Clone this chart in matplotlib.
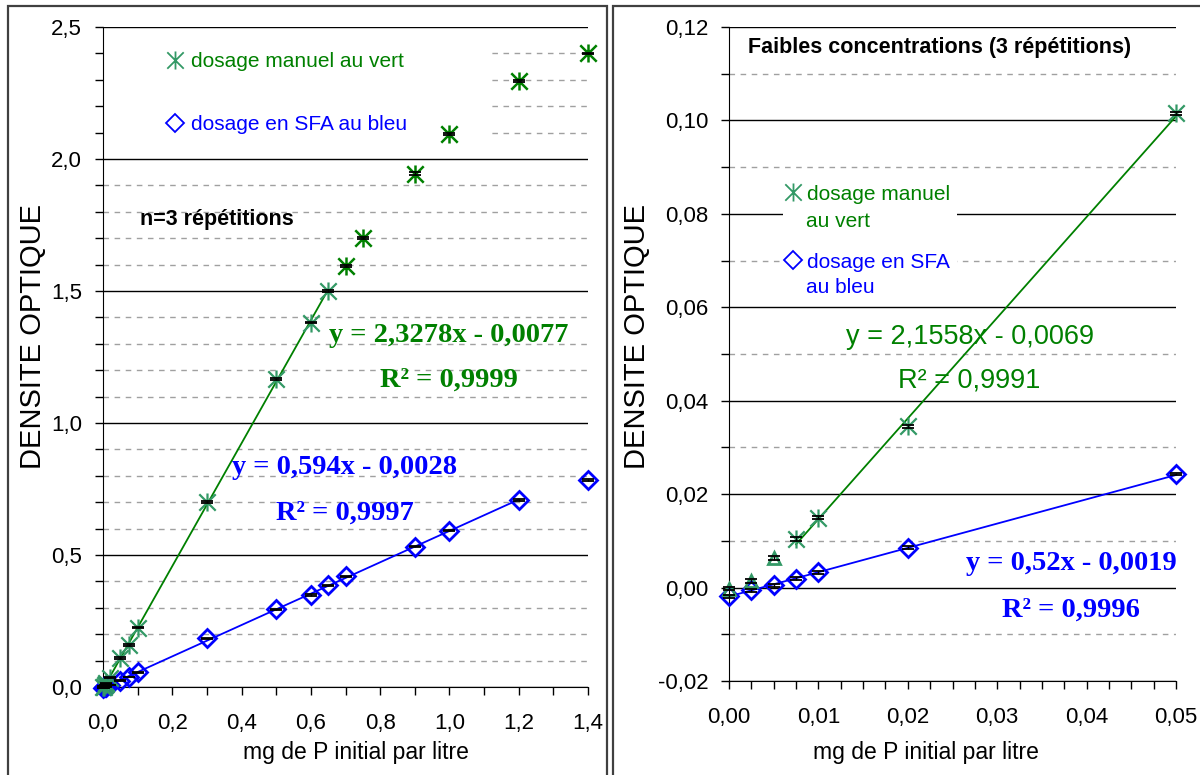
import numpy as np
import matplotlib.pyplot as plt
from matplotlib.path import Path
from matplotlib.patches import Rectangle
from matplotlib.lines import Line2D
from matplotlib.ticker import MultipleLocator, FuncFormatter

plt.rcParams['font.family'] = ['Liberation Sans', 'DejaVu Sans']

# ---- data, left panel (0 - 1.4 mg/L) ----
left_x_green = [0, 0.0025, 0.005, 0.0075, 0.01, 0.02, 0.05, 0.075, 0.1, 0.3, 0.5, 0.6, 0.65]
left_y_green = [0.0, 0.001, 0.0065, 0.0105, 0.015, 0.035, 0.11, 0.16, 0.225, 0.70, 1.165, 1.38, 1.50]
left_err_green = [0.002, 0.002, 0.002, 0.002, 0.002, 0.002, 0.003, 0.003, 0.003, 0.003, 0.004, 0.003, 0.003]
left_x_green_high = [0.7, 0.75, 0.9, 1.0, 1.2, 1.4]
left_y_green_high = [1.595, 1.70, 1.945, 2.095, 2.295, 2.40]
left_err_green_high = [0.004, 0.003, 0.004, 0.005, 0.004, 0.002]
left_x_blue = [0, 0.0025, 0.005, 0.0075, 0.01, 0.02, 0.05, 0.075, 0.1, 0.3, 0.5, 0.6, 0.65, 0.7, 0.9, 1.0, 1.2, 1.4]
left_y_blue = [-0.002, -0.001, 0.0004, 0.0017, 0.003, 0.0083, 0.024, 0.038, 0.055, 0.185, 0.295, 0.348,
               0.385, 0.42, 0.532, 0.592, 0.708, 0.784]
left_err_blue = [0.001] * 9 + [0.002, 0.002, 0.003, 0.003, 0.002, 0.003, 0.002, 0.004, 0.002]

# ---- data, right panel (low concentrations) ----
right_x_tri = [0, 0.0025, 0.005]
right_y_tri = [-0.0002, 0.0014, 0.0064]
right_err_tri = [0.0004, 0.0004, 0.0004]
right_x_green = [0.0075, 0.01, 0.02, 0.05]
right_y_green = [0.0104, 0.015, 0.0345, 0.1015]
right_err_green = [0.0004, 0.0004, 0.0004, 0.0004]
right_x_blue = [0, 0.0025, 0.005, 0.0075, 0.01, 0.02, 0.05]
right_y_blue = [-0.0019, -0.0006, 0.0005, 0.0019, 0.0033, 0.0085, 0.0243]
right_err_blue = [0.0003] * 7

# trendline coefficients (slope, intercept, x range)
left_fit_green = (2.3278, -0.0077, [0, 0.65])
left_fit_blue = (0.594, -0.0028, [0, 1.2])
right_fit_green = (2.1558, -0.0069, [0.0075, 0.05])
right_fit_blue = (0.52, -0.0019, [0, 0.05])

seagreen = '#339966'
green = '#008000'
blue = '#0000ff'

# excel style asterisk: X with a vertical bar
ast = Path([(-1, -1), (1, 1), (-1, 1), (1, -1), (0, -1.1), (0, 1.1)],
           [Path.MOVETO, Path.LINETO] * 3)


def comma(dec):
    def f(v, pos):
        if abs(v) < 1e-9:
            v = 0.0
        return f'{v:.{dec}f}'.replace('.', ',')
    return FuncFormatter(f)


def style(ax, xmaj, xmin, ymaj, ymin, xdec, ydec):
    ax.xaxis.set_major_locator(MultipleLocator(xmaj))
    ax.xaxis.set_minor_locator(MultipleLocator(xmin))
    ax.yaxis.set_major_locator(MultipleLocator(ymaj))
    ax.yaxis.set_minor_locator(MultipleLocator(ymin))
    ax.xaxis.set_major_formatter(comma(xdec))
    ax.yaxis.set_major_formatter(comma(ydec))
    ax.grid(which='major', axis='y', color='black', lw=1)
    ax.grid(which='minor', axis='y', color='#a0a0a0', lw=1, ls=(0, (4, 4)))
    ax.set_axisbelow(True)
    for s in ['top', 'right']:
        ax.spines[s].set_visible(False)
    ax.tick_params(which='both', direction='out', length=6, width=1, color='black')
    ax.tick_params(axis='y', labelsize=16, pad=9)
    ax.tick_params(axis='x', labelsize=16, pad=13)


def series(ax, x, y, err, marker, color, ms, mew, mfc='none'):
    ax.plot(x, y, ls='none', marker=marker, ms=ms, mew=mew, mec=color, mfc=mfc, zorder=3, clip_on=False)
    ax.errorbar(x, y, yerr=err, fmt='none', ecolor='black', elinewidth=1, capsize=4, capthick=1.3,
                zorder=4, clip_on=False)


def trend(ax, fit, color):
    a, b, xr = fit
    xs = np.array(xr)
    ax.plot(xs, a * xs + b, color=color, lw=1.3, zorder=2)


fig = plt.figure(figsize=(12, 7.75), dpi=100)

# panel frames
for x0, x1 in [(8, 607), (613, 1205)]:
    fig.add_artist(Rectangle((x0 / 1200, -0.05), (x1 - x0) / 1200, 1.05 - 6 / 775,
                             transform=fig.transFigure, fill=False, edgecolor='#404040', lw=1.6))

# ---------------- left panel ----------------
ax1 = fig.add_axes([103 / 1200, 1 - 687 / 775, 485 / 1200, 660 / 775])
ax1.set_xlim(0, 1.4)
ax1.set_ylim(0, 2.5)
style(ax1, 0.2, 0.1, 0.5, 0.1, 1, 1)

ax1.add_patch(Rectangle((0.003, 0.814), 0.795, 0.174, transform=ax1.transAxes,
                        facecolor='white', edgecolor='none', zorder=1))

trend(ax1, left_fit_green, green)
trend(ax1, left_fit_blue, blue)
series(ax1, left_x_blue, left_y_blue, left_err_blue, 'D', blue, 9, 2)
series(ax1, left_x_green, left_y_green, left_err_green, ast, seagreen, 13, 1.6)
series(ax1, left_x_green_high, left_y_green_high, left_err_green_high, ast, green, 13, 1.8)

h1 = [Line2D([], [], ls='none', marker=ast, ms=13, mew=1.3, mec=seagreen),
      Line2D([], [], ls='none', marker='D', ms=9, mew=1.3, mec=blue, mfc='none')]
ax1.legend(h1, ['dosage manuel au vert', 'dosage en SFA au bleu'], loc='upper left',
           bbox_to_anchor=(0.127, 0.962), frameon=False, fontsize=15, labelcolor=[green, blue],
           borderpad=0, borderaxespad=0, handlelength=1, handletextpad=0.25, labelspacing=2.1)

ax1.text(0.076, 0.708, 'n=3 répétitions', transform=ax1.transAxes, fontsize=15.5,
         fontweight='bold', va='center', ha='left')
serif = dict(family='Liberation Serif', fontweight='bold', fontsize=20.5, ha='center', va='center')
ax1.text(0.713, 0.533, 'y = 2,3278x - 0,0077', transform=ax1.transAxes, color=green, **serif)
ax1.text(0.713, 0.465, 'R² = 0,9999', transform=ax1.transAxes, color=green, **serif)
ax1.text(0.499, 0.332, 'y = 0,594x - 0,0028', transform=ax1.transAxes, color=blue, **serif)
ax1.text(0.499, 0.264, 'R² = 0,9997', transform=ax1.transAxes, color=blue, **serif)

# ---------------- right panel ----------------
ax2 = fig.add_axes([729 / 1200, 1 - 681 / 775, 447 / 1200, 654 / 775])
ax2.set_xlim(0, 0.05)
ax2.set_ylim(-0.02, 0.12)
style(ax2, 0.01, 0.0025, 0.02, 0.01, 2, 2)

ax2.add_patch(Rectangle((0.121, 0.583), 0.389, 0.189, transform=ax2.transAxes,
                        facecolor='white', edgecolor='none', zorder=1))

trend(ax2, right_fit_green, green)
trend(ax2, right_fit_blue, blue)
series(ax2, right_x_blue, right_y_blue, right_err_blue, 'D', blue, 9, 2)
series(ax2, right_x_tri, right_y_tri, right_err_tri, '^', seagreen, 8, 2)
series(ax2, right_x_green, right_y_green, right_err_green, ast, seagreen, 13, 1.6)

ax2.legend(h1, ['dosage manuel', 'dosage en SFA'], loc='upper left',
           bbox_to_anchor=(0.12, 0.759), frameon=False, fontsize=15, labelcolor=[green, blue],
           borderpad=0, borderaxespad=0, handlelength=1, handletextpad=0.15, labelspacing=2.35)
ax2.text(0.172, 0.702, 'au vert', transform=ax2.transAxes, fontsize=15, color=green, va='center')
ax2.text(0.172, 0.601, 'au bleu', transform=ax2.transAxes, fontsize=15, color=blue, va='center')

ax2.text(0.0425, 0.968, 'Faibles concentrations (3 répétitions)', transform=ax2.transAxes,
         fontsize=15.5, fontweight='bold', va='center', ha='left')
sans = dict(fontsize=19.5, ha='center', va='center', color=green)
ax2.text(0.539, 0.526, 'y = 2,1558x - 0,0069', transform=ax2.transAxes, **sans)
ax2.text(0.537, 0.460, 'R² = 0,9991', transform=ax2.transAxes, **sans)
ax2.text(0.765, 0.180, 'y = 0,52x - 0,0019', transform=ax2.transAxes, color=blue, **serif)
ax2.text(0.765, 0.109, 'R² = 0,9996', transform=ax2.transAxes, color=blue, **serif)

# axis titles
for xc in [356, 926]:
    fig.text(xc / 1200, 1 - 752 / 775, 'mg de P initial par litre', fontsize=16.5, ha='center', va='center')
for xc in [33, 637]:
    fig.text(xc / 1200, 1 - 336 / 775, 'DENSITE OPTIQUE', fontsize=21, rotation=90, ha='center', va='center')

plt.savefig('out.png', dpi=100)
